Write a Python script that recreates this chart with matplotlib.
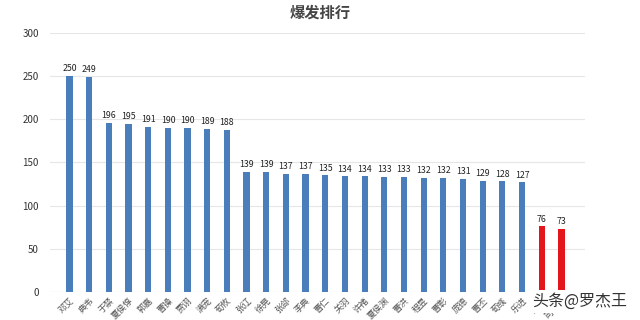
import matplotlib
matplotlib.use("Agg")
import matplotlib.pyplot as plt

plt.rcParams["font.family"] = ["Noto Sans CJK SC", "DejaVu Sans"]

names = ["邓艾", "典韦", "于禁", "夏侯惇", "郭嘉", "曹操", "贾诩", "满宠", "荀攸",
         "张辽", "徐晃", "张郃", "李典", "曹仁", "关羽", "许褚", "夏侯渊", "曹洪",
         "程昱", "曹彰", "庞德", "曹丕", "荀彧", "乐进", "刘晔", "司马懿"]
values = [250, 249, 196, 195, 191, 190, 190, 189, 188, 139, 139, 137, 137, 135,
          134, 134, 133, 133, 132, 132, 131, 129, 128, 127, 76, 73]
highlight = [False] * 24 + [True, True]

blue = "#4a7ebb"
red = "#e3161b"
colors = [red if h else blue for h in highlight]

fig = plt.figure(figsize=(6.4, 3.2), dpi=100)
ax = fig.add_axes([0.078, 0.0875, 0.836, 0.81])
x = list(range(len(values)))
ax.bar(x, values, width=0.32, color=colors, zorder=3)
for xi, v in zip(x, values):
    ax.text(xi, v + 3, str(v), ha="center", va="bottom", fontsize=6.3,
            color="#222222")

ax.set_ylim(0, 300)
ax.set_yticks(range(0, 301, 50))
ax.set_xlim(-1.0, 26.2)
ax.set_xticks(x)
ax.set_xticklabels(names, rotation=45, ha="right", fontsize=6.3, color="#555555",
                   rotation_mode="anchor")
ax.tick_params(axis="y", labelsize=7, colors="#333333", length=0, pad=8)
ax.tick_params(axis="x", length=0, pad=3)
ax.grid(axis="y", color="#e6e6e6", linewidth=0.8, zorder=0)
for s in ax.spines.values():
    s.set_visible(False)
ax.axhline(0, color="#d9d9d9", linewidth=0.8, zorder=2)

fig.text(0.5, 0.962, "爆发排行", ha="center", va="center", fontsize=11,
         color="#444444", fontweight="bold")
fig.text(0.905, 0.058, "头条@罗杰王", ha="center", va="center", fontsize=11.5,
         color="#333333",
         bbox=dict(boxstyle="square,pad=0.2", facecolor="white", edgecolor="none"))

fig.savefig("out.png", dpi=100)
